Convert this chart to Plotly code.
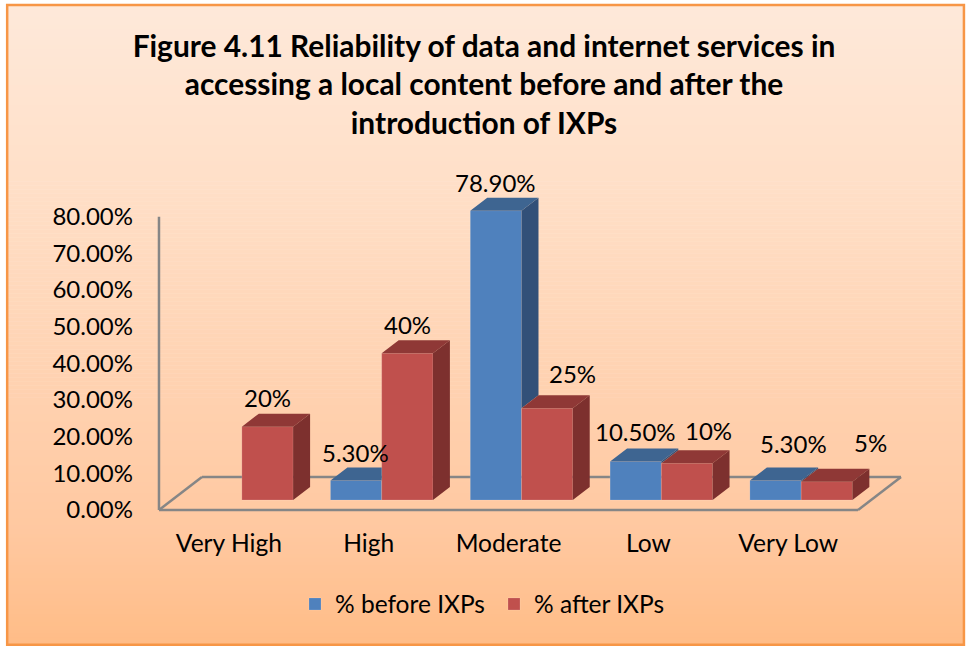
import plotly.graph_objects as go

categories = ["Very High", "High", "Moderate", "Low", "Very Low"]
before_ixps = [None, 5.3, 78.9, 10.5, 5.3]
after_ixps = [20, 40, 25, 10, 5]
y_ticks = [0, 10, 20, 30, 40, 50, 60, 70, 80]
title_lines = ["Figure 4.11 Reliability of data and internet services in",
               "accessing a local content before and after the",
               "introduction of IXPs"]

FONT = "Lato"
W, H = 970, 646
X0_PX, X_SCALE = 228.5, 140.0
Y0_PX, Y_SCALE = 510.0, 3.6625
X_RANGE = (-0.6, 4.9)
Y_RANGE = (-3.0, 90.0)
ML = X0_PX + X_SCALE * X_RANGE[0]
MR = W - (X0_PX + X_SCALE * X_RANGE[1])
MT = Y0_PX - Y_SCALE * Y_RANGE[1]
MB = H - (Y0_PX - Y_SCALE * Y_RANGE[0])
PW, PH = W - ML - MR, H - MT - MB

BAR_W = 51.3 / X_SCALE
DX, DY = 17 / X_SCALE, 13 / Y_SCALE
SHIFT_X, SHIFT_Y = 13 / X_SCALE, 10 / Y_SCALE
FLOOR_DX, FLOOR_DY = 43 / X_SCALE, 33 / Y_SCALE
BLUE, BLUE_TOP, BLUE_SIDE = "#4F81BD", "#3E6591", "#325078"
RED, RED_TOP, RED_SIDE = "#C0504D", "#8F3836", "#7D302E"
GREY = "#868686"


def px(x):
    return (x - ML) / PW


def py(y):
    return (H - MB - y) / PH


centers = [i + SHIFT_X for i in range(len(categories))]


def poly(xs, ys, store):
    store[0].extend(xs + [xs[0], None])
    store[1].extend(ys + [ys[0], None])


b_side, b_top, r_top, r_side = ([], []), ([], []), ([], []), ([], [])
for c, b, r in zip(centers, before_ixps, after_ixps):
    rt = r + SHIFT_Y
    poly([c, c + BAR_W, c + BAR_W + DX, c + DX], [rt, rt, rt + DY, rt + DY], r_top)
    e = c + BAR_W
    poly([e, e + DX, e + DX, e], [SHIFT_Y, SHIFT_Y + DY, rt + DY, rt], r_side)
    if b is None:
        continue
    bt = b + SHIFT_Y
    if b > r:
        poly([c - BAR_W, c, c + DX, c - BAR_W + DX], [bt, bt, bt + DY, bt + DY], b_top)
        poly([c, c + DX, c + DX, c], [rt, rt + DY, bt + DY, bt], b_side)
    else:
        poly([c - BAR_W, c, c, c - BAR_W + DX], [bt, bt, bt + DY, bt + DY], b_top)

fig = go.Figure()
edge = dict(width=1, color="rgba(255,255,255,0.14)")
fig.add_trace(go.Bar(name="% before IXPs", x=centers, y=before_ixps, base=SHIFT_Y, width=BAR_W,
                     offset=-BAR_W, marker=dict(color=BLUE, line=edge), hoverinfo="skip"))
fig.add_trace(go.Bar(name="% after IXPs", x=centers, y=after_ixps, base=SHIFT_Y, width=BAR_W,
                     offset=0, marker=dict(color=RED, line=edge), hoverinfo="skip"))
for store, col in ((b_side, BLUE_SIDE), (b_top, BLUE_TOP), (r_top, RED_TOP), (r_side, RED_SIDE)):
    fig.add_trace(go.Scatter(x=store[0], y=store[1], mode="lines", fill="toself", fillcolor=col,
                             line=dict(width=0), showlegend=False, hoverinfo="skip"))

# background gradient
stops = [(0, (254, 233, 218)), (170, (255, 224, 201)), (530, (255, 200, 160)), (646, (255, 188, 134))]


def bg(y):
    for (a, ca), (b, cb) in zip(stops, stops[1:]):
        if y <= b:
            t = (y - a) / (b - a)
            return "rgb(%d,%d,%d)" % tuple(round(u + (v - u) * t) for u, v in zip(ca, cb))
    return "rgb(255,188,134)"


shapes = []
L, R, T, B = 6.5, 964.5, 5.5, 644.5
step = 4
y = T
while y < B:
    shapes.append(dict(type="rect", xref="paper", yref="paper", layer="below", x0=px(L), x1=px(R),
                       y0=py(y), y1=py(min(y + step + 0.5, B)), fillcolor=bg(y), line_width=0))
    y += step
shapes.append(dict(type="rect", xref="paper", yref="paper", layer="below", x0=px(L), x1=px(R),
                   y0=py(T), y1=py(B), line=dict(color="#F79646", width=2.5)))

# floor and wall
xl, xr = -0.5, len(categories) - 0.5
floor = [(xl, 0, xr, 0), (xl, 0, xl + FLOOR_DX, FLOOR_DY), (xl + FLOOR_DX, FLOOR_DY, xr + FLOOR_DX, FLOOR_DY),
         (xr, 0, xr + FLOOR_DX, FLOOR_DY), (xl, 0, xl, y_ticks[-1])]
for a, b_, c_, d in floor:
    shapes.append(dict(type="line", xref="x", yref="y", layer="below", x0=a, y0=b_, x1=c_, y1=d,
                       line=dict(color=GREY, width=2.5)))

# data labels: (x nudge px, y nudge px)
before_nudge = [None, (-1, 28.5), (0, 28.5), (0, 29.5), (18, 37.5)]
after_nudge = [(0, 29.5), (0, 28.5), (25, 34.5), (22, 32.5), (44, 39.5)]
ann = []
for i, c in enumerate(centers):
    if before_ixps[i] is not None:
        ann.append(dict(x=c - BAR_W / 2, y=before_ixps[i] + SHIFT_Y, text=f"{before_ixps[i]:.2f}%",
                        xshift=before_nudge[i][0], yshift=before_nudge[i][1], showarrow=False))
    ann.append(dict(x=c + BAR_W / 2, y=after_ixps[i] + SHIFT_Y, text=f"{after_ixps[i]:.0f}%",
                    xshift=after_nudge[i][0], yshift=after_nudge[i][1], showarrow=False))

title_html = "<br>".join(title_lines)
fig.update_layout(
    width=W, height=H, margin=dict(l=ML, r=MR, t=MT, b=MB, pad=0), barmode="overlay",
    paper_bgcolor="white", plot_bgcolor="rgba(0,0,0,0)",
    font=dict(family=FONT, size=24, color="#000000"),
    title=dict(text=f'<b><span style="font-size:29.9px">{title_html}</span></b>', x=484 / W, xanchor="center",
               y=1 - 57 / H, yanchor="top", font=dict(family=FONT, size=29.6, color="#000000")),
    xaxis=dict(range=X_RANGE, tickmode="array", tickvals=list(range(len(categories))), ticktext=categories,
               tickfont=dict(size=24.6),
               showgrid=False, zeroline=False, showline=False, ticks="", ticklabelstandoff=5),
    yaxis=dict(range=Y_RANGE, tickmode="array", tickvals=y_ticks, ticktext=[f"{v:.2f}%" for v in y_ticks],
               showgrid=False, zeroline=False, showline=False, ticks="", ticklabelstandoff=11),
    legend=dict(orientation="h", x=295 / W, xref="container", xanchor="left", y=1 - 604 / H, yref="container",
                yanchor="middle", bgcolor="rgba(0,0,0,0)", font=dict(size=24.5), traceorder="normal",
                entrywidth=154, entrywidthmode="pixels"),
    shapes=shapes, annotations=ann, showlegend=True,
)
fig.write_html("out.html", post_script="document.body.style.margin='0';", config=dict(displayModeBar=False))
